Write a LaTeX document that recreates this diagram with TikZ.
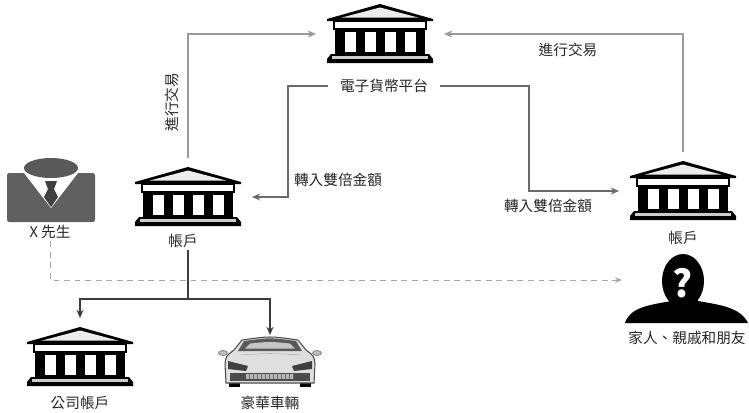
\documentclass[tikz,border=0pt]{standalone}
\usepackage{fontspec}
\setmainfont{Noto Sans CJK TC}
\usetikzlibrary{arrows.meta}

\definecolor{tradegray}{HTML}{9A9A9A}
\definecolor{paygray}{HTML}{6A6A6A}
\definecolor{treegray}{HTML}{3C3C3C}
\definecolor{suit}{HTML}{606060}

\tikzset{
  % classical bank building, about 106 x 59 units
  bank/.pic={
    \fill[black] (-53,-15) -- (0,-30) -- (53,-15) -- (53,-13) -- (-53,-13) -- cycle;
    \fill[gray!15] (-38,-16.5) -- (0,-26.5) -- (38,-16.5) -- cycle;
    \filldraw[fill=white, draw=black, line width=1.4pt] (-46,-13) rectangle (46,-5);
    \fill[black] (-45,-5) rectangle (45,21);
    \foreach \cx in {-30,-10,10,30}
      \fill[white] (\cx-5.5,-2) rectangle (\cx+5.5,18);
    \fill[black] (-49,20) -- (49,20) -- (53,25) -- (53,29) -- (-53,29) -- (-53,25) -- cycle;
    \fill[gray!40] (-48,22.3) rectangle (48,25);
  },
  % man in a suit
  boss/.pic={
    \fill[suit, rounded corners=2] (-44,-17) rectangle (44,32);
    \fill[white] (-27,-17) -- (0,18) -- (27,-17) -- cycle;
    \fill[black!75] (-6,-9) -- (6,-9) -- (3,-1) -- (7,7) -- (0,17) -- (-7,7) -- (-3,-1) -- cycle;
    \fill[black!65] (0,-22) ellipse (27 and 10);
  },
  % silhouette with a question mark
  unknown/.pic={
    \fill[black] (-61,43) .. controls (-56,27) and (-36,25) .. (-15,21) -- (-11,12)
      -- (8,12) -- (12,21) .. controls (34,25) and (54,27) .. (62,43) -- cycle;
    \fill[black] (-3,1) ellipse (21 and 27);
    \node[text=white, font=\fontsize{32}{32}\selectfont\bfseries] (mark) at (-3,3) {?};
  },
  % sports car seen from the front
  car/.pic={
    \fill[black] (-41,12) rectangle (-30,23);
    \fill[black] (30,12) rectangle (41,23);
    \filldraw[fill=gray!25, draw=black!70, line width=0.9pt]
      (-44,19) -- (-45,0) .. controls (-44,-8) .. (-36,-14) -- (-28,-24)
      .. controls (0,-28) .. (28,-24) -- (36,-14) .. controls (44,-8) .. (45,0)
      -- (44,19) -- cycle;
    \fill[black!65] (-26,-23) .. controls (0,-26.5) .. (26,-23) -- (32,-13) -- (-32,-13) -- cycle;
    \fill[gray!45] (-20,-20.5) .. controls (0,-22.5) .. (20,-20.5) -- (25,-15.5) -- (-25,-15.5) -- cycle;
    \filldraw[fill=gray!50, draw=black!70] (-47,-11) ellipse (4.5 and 2.5);
    \filldraw[fill=gray!50, draw=black!70] (47,-11) ellipse (4.5 and 2.5);
    \draw[gray!60, line width=0.5pt] (-30,-9) .. controls (0,-11) .. (30,-9);
    \fill[black!75] (-42,-3) -- (-22,2) -- (-24,7) -- (-42,5) -- cycle;
    \fill[black!75] (42,-3) -- (22,2) -- (24,7) -- (42,5) -- cycle;
    \fill[black!70] (-40,9) rectangle (40,17);
    \fill[gray!55] (-24,10) rectangle (24,15);
    \foreach \gx in {-21,-17,...,23}
      \draw[gray!80!black, line width=0.4pt] (\gx,10) -- (\gx,15);
  },
  iconbox/.style={minimum width=3.84cm, minimum height=2.34cm, inner sep=0pt, outer sep=0pt},
  lbl/.style={font=\fontsize{12.5}{14}\selectfont, text=black!85, inner sep=2pt},
  trade/.style={tradegray, line width=1.8pt, -{Stealth[length=7pt, width=6pt]}},
  pay/.style={paygray, line width=1.8pt, -{Stealth[length=7pt, width=6pt]}},
  tree/.style={treegray, line width=2pt, -{Stealth[length=7pt, width=6pt]}},
  hint/.style={gray!70, line width=0.8pt, dash pattern=on 5pt off 4pt, -{Stealth[length=6pt, width=5pt]}}
}

\begin{document}
\begin{tikzpicture}[x=0.03cm, y=-0.03cm]
  \useasboundingbox (0,0) rectangle (749,412);

  % icons
  \node[iconbox] (platform) at (380,34) {};
  \pic at (platform) {bank};
  \node[iconbox] (acctL) at (188,197) {};
  \pic at (acctL) {bank};
  \node[iconbox] (acctR) at (683,191) {};
  \pic at (acctR) {bank};
  \node[iconbox] (corp) at (80,357) {};
  \pic at (corp) {bank};
  \node[iconbox, minimum width=2.7cm, minimum height=1.74cm] (car) at (270,364) {};
  \pic at (car) {car};
  \node[iconbox] (mrx) at (51,190) {};
  \pic at (mrx) {boss};
  \node[iconbox] (kin) at (686,280) {};
  \pic at (kin) {unknown};

  % captions
  \node[lbl, inner xsep=0.36cm] (platlbl) at (384,86) {電子貨幣平台};
  \node[lbl] (lblL) at (183,241) {帳戶};
  \node[lbl] (lblR) at (683,238) {帳戶};
  \node[lbl] (corplbl) at (80,403) {公司帳戶};
  \node[lbl] (carlbl) at (270,403) {豪華車輛};
  \node[lbl] (xlbl) at (50,232) {X 先生};
  \node[lbl] (kinlbl) at (687,338) {家人、親戚和朋友};

  % money flows
  \draw[trade] (acctL.north) |- (platform.west);
  \draw[trade] (acctR.north) |- (platform.east);
  \draw[pay] (platlbl.west) -- ++(-40,0) |- (acctL.east);
  \draw[pay] (platlbl.east) -- ++(89,0) |- (acctR.west);
  \node[lbl, rotate=90] (tradeL) at (172,102) {進行交易};
  \node[lbl] (tradeR) at (568,50) {進行交易};
  \node[lbl] (payL) at (338,180) {轉入雙倍金額};
  \node[lbl] (payR) at (548,206) {轉入雙倍金額};

  % spending
  \coordinate (fork) at (188,299);
  \draw[tree, -] (lblL.south -| fork) -- (fork);
  \draw[tree] (fork) -| (corp.north);
  \draw[tree] (fork) -| (car.north);
  \draw[hint] (xlbl.south) |- (kin.west);
\end{tikzpicture}
\end{document}
